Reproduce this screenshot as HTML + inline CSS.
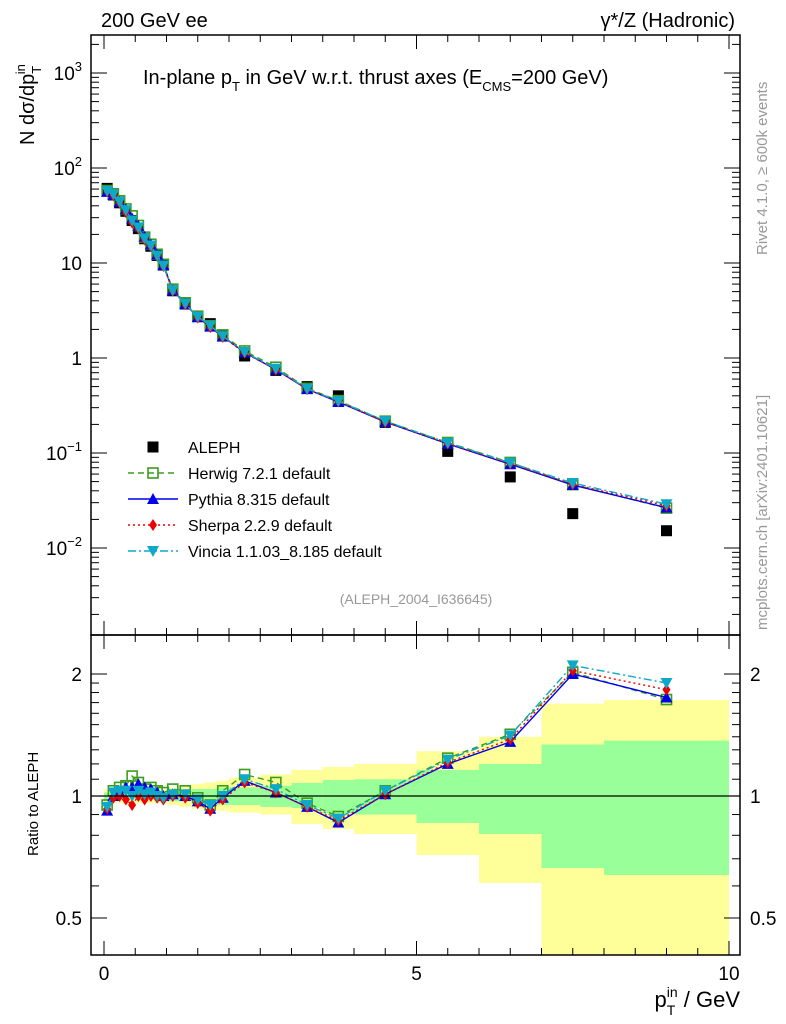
<!DOCTYPE html>
<html><head><meta charset="utf-8"><style>
html,body{margin:0;padding:0;background:#fff;}
svg{display:block;font-family:"Liberation Sans",sans-serif;}
</style></head><body>
<svg id="chart" width="786" height="1024" viewBox="0 0 786 1024" xmlns="http://www.w3.org/2000/svg">
<g id="bands"></g>
<g id="grid"></g>
<g id="data"></g>
<g id="series"></g>
<rect x="91" y="35" width="649" height="600" fill="none" stroke="#000" stroke-width="1.5"/>
<rect x="91" y="635" width="649" height="320" fill="none" stroke="#000" stroke-width="1.5"/>
<line x1="91" x2="740" y1="796" y2="796" stroke="#000" stroke-width="1.2"/>
<g id="ticks"></g>
<text x="101" y="27" font-size="20">200 GeV ee</text>
<text x="735" y="27" font-size="20" text-anchor="end">γ*/Z (Hadronic)</text>
<text x="143" y="84" font-size="20">In-plane p<tspan font-size="13" dy="7">T</tspan><tspan dy="-7"> in GeV w.r.t. thrust axes (E</tspan><tspan font-size="13" dy="7">CMS</tspan><tspan dy="-7">=200 GeV)</tspan></text>
<text transform="translate(34,145) rotate(-90)" font-size="20">N  dσ/dp<tspan font-size="13" dy="7">T</tspan><tspan font-size="13" dy="-16" dx="-8">in</tspan></text>
<text transform="translate(38,856) rotate(-90)" font-size="15">Ratio to ALEPH</text>
<text x="740" y="1007" font-size="22" text-anchor="end">p<tspan font-size="14" dy="8">T</tspan><tspan font-size="14" dy="-18" dx="-8">in</tspan><tspan dy="10"> / GeV</tspan></text>
<text transform="translate(767,255) rotate(-90)" font-size="15" fill="#999">Rivet 4.1.0, ≥ 600k events</text>
<text transform="translate(767,630) rotate(-90)" font-size="15" fill="#999">mcplots.cern.ch [arXiv:2401.10621]</text>
<text x="416" y="604" font-size="14" fill="#999" text-anchor="middle">(ALEPH_2004_I636645)</text>
<g id="legend"></g>
</svg>
<script>
const xs = [0.05,0.15,0.25,0.35,0.45,0.55,0.65,0.75,0.85,0.95,1.1,1.3,1.5,1.7,1.9,2.25,2.75,3.25,3.75,4.5,5.5,6.5,7.5,9.0];
const aleph = [61,52,43,35,28,23,18,15,12,9.5,5.1,3.7,2.77,2.3,1.7,1.05,0.74,0.5,0.40,0.21,0.104,0.056,0.023,0.0152];
const herwigRatio = [0.95,1.03,1.05,1.06,1.12,1.08,1.04,1.05,1.03,1.02,1.04,1.03,0.99,0.95,1.03,1.13,1.08,0.96,0.89,1.03,1.24,1.42,2.02,1.73];
const pythiaRatio = [0.92,1.0,1.02,1.05,1.05,1.07,1.05,1.04,1.02,1.0,1.01,1.0,0.97,0.93,0.99,1.09,1.02,0.94,0.86,1.01,1.20,1.36,2.0,1.75];
const sherpaRatio = [0.93,0.99,1.0,0.98,0.95,1.0,0.98,1.0,0.99,0.98,1.0,0.99,0.96,0.92,0.98,1.08,1.02,0.94,0.87,1.01,1.21,1.38,2.04,1.83];
const vinciaRatio = [0.94,1.02,1.03,1.03,1.0,1.03,1.01,1.02,1.0,0.99,1.01,1.01,0.98,0.95,1.0,1.1,1.04,0.95,0.88,1.03,1.23,1.41,2.1,1.9];
const bandEdges = [0,0.1,0.2,0.3,0.4,0.5,0.6,0.7,0.8,0.9,1.0,1.2,1.4,1.6,1.8,2.0,2.5,3.0,3.5,4.0,5.0,6.0,7.0,8.0,10.0];
const yellowLo = [0.96,0.96,0.96,0.96,0.96,0.96,0.96,0.96,0.96,0.96,0.95,0.94,0.93,0.92,0.92,0.91,0.9,0.853,0.829,0.806,0.715,0.61,0.3,0.3];
const yellowHi = [1.04,1.04,1.04,1.04,1.04,1.04,1.04,1.04,1.04,1.04,1.05,1.06,1.07,1.08,1.09,1.11,1.13,1.16,1.18,1.2,1.29,1.40,1.69,1.725];
const greenLo = [0.98,0.98,0.98,0.98,0.98,0.98,0.98,0.98,0.98,0.98,0.97,0.97,0.96,0.96,0.95,0.95,0.94,0.934,0.908,0.90,0.858,0.806,0.664,0.638];
const greenHi = [1.02,1.02,1.02,1.02,1.02,1.02,1.02,1.02,1.02,1.02,1.03,1.03,1.04,1.04,1.05,1.05,1.06,1.077,1.095,1.10,1.16,1.2,1.34,1.37];
const xTickLabels = ["0","5","10"];
const yTickExps = ["-2","-1","0","1","2","3"];
const ratioTickLabels = ["0.5","1","2"];

const NS="http://www.w3.org/2000/svg";
const X = v => 104 + v*62.5;
const Y = v => 358 - 95*Math.log10(v);
const R = v => 796 - 122*Math.log2(v);
function mk(tag, attrs, parent){const e=document.createElementNS(NS,tag);for(const k in attrs)e.setAttribute(k,attrs[k]);parent.appendChild(e);return e;}
const gB=document.getElementById('bands'), gS=document.getElementById('series'), gD=document.getElementById('data'), gT=document.getElementById('ticks'), gL=document.getElementById('legend');

for(let i=0;i<bandEdges.length-1;i++){
  const x1=X(bandEdges[i]), x2=X(bandEdges[i+1]);
  const top=Math.max(635,R(yellowHi[i]));
  const yb=mk('rect',{x:x1,y:top,width:x2-x1,height:Math.min(955,R(yellowLo[i]))-top,fill:'#ffff99'},gB);
  
  
}
for(let i=0;i<bandEdges.length-1;i++){
  const x1=X(bandEdges[i]), x2=X(bandEdges[i+1]);
  const gb=mk('rect',{x:x1,y:R(greenHi[i]),width:x2-x1,height:R(greenLo[i])-R(greenHi[i]),fill:'#99ff99'},gB);
  
  
}

function marker(type,cx,cy,color,parent){
  let e;
  if(type==='sq') e=mk('rect',{x:cx-5.5,y:cy-5.5,width:11,height:11,fill:color},parent);
  else if(type==='osq') e=mk('rect',{x:cx-5,y:cy-5,width:10,height:10,fill:'none',stroke:color,'stroke-width':1.6},parent);
  else if(type==='up') e=mk('polygon',{points:`${cx},${cy-6} ${cx-6},${cy+5} ${cx+6},${cy+5}`,fill:color},parent);
  else if(type==='dn') e=mk('polygon',{points:`${cx-6},${cy-5} ${cx+6},${cy-5} ${cx},${cy+6}`,fill:color},parent);
  else e=mk('polygon',{points:`${cx},${cy-6} ${cx+4},${cy} ${cx},${cy+6} ${cx-4},${cy}`,fill:color},parent);
  return e;
}
xs.forEach((x,i)=>{
  const a=marker('sq',X(x),Y(aleph[i]),'#000',gD);
  
  
});
const mcs=[
 {name:'herwig',label:'Herwig 7.2.1 default',r:herwigRatio,color:'#3c9c1c',dash:'6,4',m:'osq'},
 {name:'pythia',label:'Pythia 8.315 default',r:pythiaRatio,color:'#0000ee',dash:'',m:'up'},
 {name:'sherpa',label:'Sherpa 2.2.9 default',r:sherpaRatio,color:'#ee0000',dash:'2,3',m:'dia'},
 {name:'vincia',label:'Vincia 1.1.03_8.185 default',r:vinciaRatio,color:'#10a8c8',dash:'8,3,2,3',m:'dn'}];
mcs.forEach(s=>{
  const g=mk('g',{},gS);
  
  
  const mp=xs.map((x,i)=>X(x)+','+Y(aleph[i]*s.r[i])).join(' ');
  const rp=xs.map((x,i)=>X(x)+','+R(s.r[i])).join(' ');
  const l1=mk('polyline',{points:mp,fill:'none',stroke:s.color,'stroke-width':1.4,'stroke-dasharray':s.dash},g);
  
  
  const l2=mk('polyline',{points:rp,fill:'none',stroke:s.color,'stroke-width':1.4,'stroke-dasharray':s.dash},g);
  
  
  xs.forEach((x,i)=>{
    const a=marker(s.m,X(x),Y(aleph[i]*s.r[i]),s.color,g);
    
    
    const b=marker(s.m,X(x),R(s.r[i]),s.color,g);
    
    
  });
});

for(let v=0;v<=10.001;v+=0.5){
  const major=Math.abs(v-Math.round(v/5)*5)<1e-6; const L=major?14:7;
  [[955,-1],[635,-1],[635,1],[35,1]].forEach(([y0,d])=>mk('line',{x1:X(v),x2:X(v),y1:y0,y2:y0+d*L,stroke:'#000','stroke-width':1},gT));
}
xTickLabels.forEach(t=>{
  const e=mk('text',{x:X(+t),y:980,'font-size':19,'text-anchor':'middle'},gT); e.textContent=t;
  
  
});
for(let e=-3;e<=3;e++){for(let k=1;k<=9;k++){
  const v=k*Math.pow(10,e), y=Y(v); if(y<35||y>635)continue; const L=k===1?16:8;
  mk('line',{x1:91,x2:91+L,y1:y,y2:y,stroke:'#000'},gT); mk('line',{x1:740,x2:740-L,y1:y,y2:y,stroke:'#000'},gT);
}}
yTickExps.forEach(ex=>{
  const n=+ex, y=Y(Math.pow(10,n)); let e;
  if(n===0||n===1){e=mk('text',{x:82,y:y+7,'font-size':19,'text-anchor':'end'},gT); e.textContent=n===0?'1':'10';}
  else{e=mk('text',{x:82,y:y+7,'font-size':19,'text-anchor':'end'},gT);
    e.innerHTML='10<tspan font-size="13" dy="-9">'+ex.replace('-','−')+'</tspan>';}
  
  
});
[0.5,0.6,0.7,0.8,0.9,1,1.1,1.2,1.3,1.4,1.5,1.6,1.7,1.8,1.9,2].forEach(v=>{
  const y=R(v), L=(v===0.5||v===1||v===2)?16:8;
  mk('line',{x1:91,x2:91+L,y1:y,y2:y,stroke:'#000'},gT); mk('line',{x1:740,x2:740-L,y1:y,y2:y,stroke:'#000'},gT);
});
ratioTickLabels.forEach(t=>{
  const y=R(+t)+7;
  const a=mk('text',{x:82,y:y,'font-size':19,'text-anchor':'end'},gT); a.textContent=t;
  
  
  const b=mk('text',{x:750,y:y,'font-size':19},gT); b.textContent=t;
  
  
});
const leg=[{label:'ALEPH',color:'#000',m:'sq',dash:null}].concat(mcs);
leg.forEach((s,i)=>{
  const y=447+i*26;
  const g=mk('g',{},gL);
  
  
  if(s.dash!==null) mk('line',{x1:128,x2:178,y1:y,y2:y,stroke:s.color,'stroke-width':1.4,'stroke-dasharray':s.dash},g);
  marker(s.m,153,y,s.color,g);
  const t=mk('text',{x:188,y:y+6,'font-size':16},g); t.textContent=s.label;
});
</script>
</body></html>
